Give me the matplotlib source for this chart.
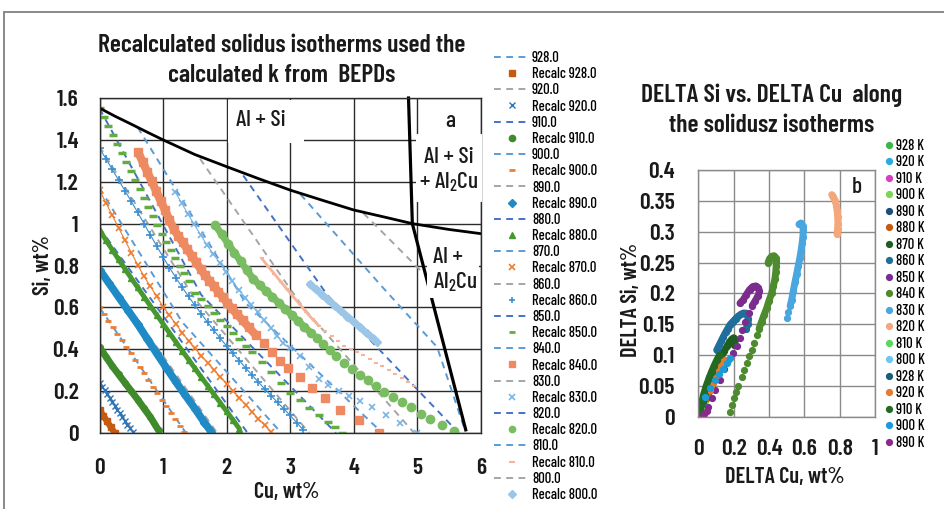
import matplotlib
matplotlib.use("Agg")
import matplotlib.pyplot as plt
import matplotlib.ticker as mticker
from matplotlib.lines import Line2D
from matplotlib.patches import Rectangle

NARROW = ["Barlow Condensed", "DejaVu Sans"]
plt.rcParams["font.family"] = NARROW
plt.rcParams["font.weight"] = 500
plt.rcParams["mathtext.fontset"] = "custom"
plt.rcParams["mathtext.rm"] = "Barlow Condensed:medium"
plt.rcParams["mathtext.it"] = "Barlow Condensed:medium"
plt.rcParams["mathtext.bf"] = "Barlow Condensed:bold"

# ---------------- (a) solidus isotherms in the Cu-Si plane ----------------
TEMPS = [928, 920, 910, 900, 890, 880, 870, 860, 850, 840, 830, 820, 810, 800]

# isotherms taken from the BEPDs (dashed)
ISO_CU = [
    [0, 0.25], [0, 0.55], [0, 0.97], [0, 1.36], [0, 1.85], [0, 2.33],
    [0, 1.3, 2.86], [0, 1.5, 3.3], [0, 1.6, 3.72], [0.6, 2.3, 4.45],
    [1.58, 3.2, 4.95], [2.26, 3.58, 5.65], [3.16, 4.47, 5.31, 5.73], [4.15, 5.07],
]
ISO_SI = [
    [0.11, 0], [0.24, 0], [0.42, 0], [0.6, 0], [0.8, 0], [0.98, 0],
    [1.17, 0.53, 0], [1.37, 0.64, 0], [1.55, 0.66, 0], [1.46, 0.62, 0],
    [1.31, 0.6, 0], [1.23, 0.66, 0], [1.14, 0.69, 0.41, 0.03], [1.05, 0.77],
]

# recalculated isotherms (markers)
RECALC_CU = [
    [0, 0.06, 0.12, 0.18, 0.24],
    [0, 0.04, 0.08, 0.12, 0.16, 0.2, 0.24, 0.28, 0.32, 0.36, 0.4, 0.44, 0.48, 0.52],
    [0, 0.1, 0.2, 0.3, 0.4, 0.5, 0.6, 0.7, 0.8, 0.93],
    [0, 0.07, 0.14, 0.21, 0.28, 0.35, 0.42, 0.49, 0.56, 0.63, 0.70, 0.77, 0.84, 0.91,
     0.98, 1.05, 1.12, 1.19, 1.26, 1.33],
    [0, 0.15, 0.3, 0.45, 0.6, 0.75, 0.9, 1.05, 1.2, 1.35, 1.5, 1.65, 1.76],
    [0, 0.1, 0.2, 0.3, 0.4, 0.5, 0.6, 0.7, 0.8, 0.9, 1.0, 1.1, 1.2, 1.3, 1.4, 1.5, 1.6,
     1.7, 1.8, 1.9, 2.0, 2.1, 2.2],
    [0, 0.1, 0.2, 0.3, 0.4, 0.5, 0.6, 0.7, 0.8, 0.9, 1.0, 1.1, 1.2, 1.3, 1.4, 1.5, 1.6,
     1.7, 1.8, 1.9, 2.0, 2.1, 2.2, 2.3, 2.4, 2.5, 2.6, 2.7],
    [0, 0.1, 0.2, 0.3, 0.4, 0.5, 0.6, 0.7, 0.8, 0.9, 1.0, 1.1, 1.2, 1.3, 1.4, 1.5, 1.6,
     1.7, 1.8, 1.9, 2.0, 2.1, 2.2, 2.3, 2.4, 2.5, 2.6, 2.7, 2.8, 2.9, 3.0, 3.1, 3.2],
    [0, 0.07, 0.14, 0.21, 0.28, 0.35, 0.42, 0.49, 0.56, 0.63, 0.70, 0.77, 0.84, 0.91,
     0.98, 1.05, 1.12, 1.19, 1.26, 1.33, 1.40, 1.5, 1.6, 1.7, 1.8, 1.9, 2.0, 2.1, 2.2,
     2.3, 2.4, 2.55, 2.7, 2.85, 3.0, 3.15, 3.3, 3.45, 3.6, 3.7, 3.81],
    [0.61, 0.68, 0.75, 0.82, 0.89, 0.96, 1.03, 1.10, 1.17, 1.24, 1.31, 1.38, 1.45, 1.52,
     1.59, 1.66, 1.73, 1.80, 1.87, 1.94, 2.01, 2.08, 2.16, 2.25, 2.35, 2.46, 2.58, 2.71,
     2.84, 2.97, 3.16, 3.34, 3.55, 3.79, 4.08, 4.39],
    [1.19, 1.29, 1.39, 1.49, 1.59, 1.69, 1.79, 1.89, 1.99, 2.09, 2.19, 2.29, 2.39, 2.49,
     2.59, 2.69, 2.79, 2.89, 2.99, 3.15, 3.3, 3.45, 3.6, 3.76, 3.93, 4.1, 4.29, 4.5,
     4.73, 5.0],
    [1.82, 1.92, 2.02, 2.12, 2.22, 2.32, 2.42, 2.52, 2.62, 2.72, 2.82, 2.92, 3.02, 3.12,
     3.22, 3.32, 3.42, 3.52, 3.62, 3.72, 3.84, 3.97, 4.1, 4.22, 4.35, 4.48, 4.62, 4.76,
     4.9, 5.05, 5.2, 5.38, 5.57],
    [2.55, 2.65, 2.75, 2.85, 2.95, 3.05, 3.15, 3.25, 3.35, 3.45, 3.55, 3.65, 3.75, 3.85,
     3.95, 4.05, 4.15, 4.25, 4.35, 4.45, 4.55, 4.65, 4.75, 4.85, 4.95],
    [3.31, 3.4, 3.5, 3.6, 3.7, 3.8, 3.9, 4.0, 4.1, 4.2, 4.3, 4.36],
]
RECALC_SI = [
    [0.11, 0.083, 0.055, 0.027, 0.0],
    [0.24, 0.221, 0.203, 0.184, 0.166, 0.148, 0.13, 0.112, 0.094, 0.076, 0.058, 0.04,
     0.022, 0.005],
    [0.41, 0.365, 0.32, 0.28, 0.24, 0.2, 0.16, 0.118, 0.076, 0.012],
    [0.600, 0.569, 0.537, 0.506, 0.474, 0.443, 0.411, 0.380, 0.348, 0.317, 0.285, 0.254,
     0.222, 0.191, 0.159, 0.128, 0.096, 0.065, 0.033, 0.005],
    [0.78, 0.715, 0.65, 0.585, 0.52, 0.45, 0.38, 0.312, 0.245, 0.18, 0.117, 0.05, 0.005],
    [0.97, 0.922, 0.875, 0.829, 0.784, 0.739, 0.695, 0.651, 0.607, 0.564, 0.521, 0.478,
     0.435, 0.393, 0.351, 0.309, 0.267, 0.226, 0.185, 0.144, 0.103, 0.062, 0.02],
    [1.16, 1.10, 1.04, 0.98, 0.921, 0.862, 0.803, 0.748, 0.70, 0.652, 0.603, 0.562,
     0.521, 0.48, 0.44, 0.404, 0.37, 0.336, 0.302, 0.268, 0.236, 0.202, 0.168, 0.134,
     0.101, 0.068, 0.036, 0.004],
    [1.36, 1.31, 1.259, 1.208, 1.157, 1.106, 1.054, 1.0, 0.946, 0.893, 0.84, 0.79,
     0.742, 0.696, 0.652, 0.61, 0.569, 0.529, 0.49, 0.452, 0.415, 0.38, 0.345, 0.31,
     0.276, 0.243, 0.21, 0.178, 0.146, 0.115, 0.084, 0.05, 0.016],
    [1.55, 1.507, 1.465, 1.422, 1.379, 1.337, 1.294, 1.251, 1.208, 1.166, 1.123, 1.08,
     1.038, 0.995, 0.952, 0.913, 0.875, 0.837, 0.8, 0.762, 0.724, 0.67, 0.638, 0.606,
     0.574, 0.542, 0.51, 0.479, 0.448, 0.417, 0.386, 0.338, 0.289, 0.24, 0.19, 0.156,
     0.121, 0.087, 0.051, 0.027, 0.0],
    [1.34, 1.294, 1.248, 1.202, 1.156, 1.11, 1.064, 1.018, 0.973, 0.94, 0.91, 0.878,
     0.846, 0.815, 0.783, 0.753, 0.727, 0.701, 0.674, 0.648, 0.621, 0.595, 0.568, 0.538,
     0.504, 0.467, 0.428, 0.387, 0.346, 0.309, 0.269, 0.217, 0.166, 0.112, 0.06, 0.0],
    [1.152, 1.099, 1.046, 0.996, 0.947, 0.898, 0.855, 0.813, 0.77, 0.727, 0.684, 0.647,
     0.613, 0.576, 0.539, 0.502, 0.465, 0.428, 0.405, 0.367, 0.313, 0.26, 0.228, 0.2,
     0.178, 0.155, 0.122, 0.086, 0.046, 0.0],
    [0.993, 0.949, 0.905, 0.862, 0.82, 0.777, 0.735, 0.706, 0.678, 0.65, 0.621, 0.593,
     0.564, 0.536, 0.508, 0.48, 0.452, 0.423, 0.395, 0.367, 0.333, 0.306, 0.279, 0.254,
     0.226, 0.198, 0.171, 0.146, 0.124, 0.091, 0.065, 0.04, 0.01],
    [0.834, 0.797, 0.76, 0.723, 0.686, 0.65, 0.614, 0.578, 0.543, 0.512, 0.487, 0.462,
     0.438, 0.416, 0.401, 0.388, 0.371, 0.354, 0.336, 0.32, 0.302, 0.283, 0.264, 0.244,
     0.225],
    [0.71, 0.687, 0.661, 0.635, 0.608, 0.582, 0.556, 0.53, 0.504, 0.478, 0.452, 0.436],
]

# phase boundaries: Al+Si eutectic valley and Al2Cu boundary
EUT_CU = [0, 0.25, 0.5, 0.75, 1.0, 1.5, 2.0, 2.5, 3.0, 3.5, 4.0, 4.5, 4.92, 5.5, 6.0]
EUT_SI = [1.552, 1.512, 1.475, 1.437, 1.40, 1.33, 1.272, 1.215, 1.16, 1.112, 1.065, 1.03,
          1.0, 0.972, 0.952]
AL2CU_CU = [4.86, 4.92, 5.76]
AL2CU_SI = [1.6, 1.0, 0.015]

# styles
ISO_COLORS = ["#5B9BD5", "#A5A5A5", "#4472C4", "#5B9BD5", "#A5A5A5", "#4472C4", "#5B9BD5",
              "#A5A5A5", "#4472C4", "#5B9BD5", "#A5A5A5", "#4472C4", "#5B9BD5", "#A5A5A5"]
RC_COLORS = ["#C55A11", "#2E75B6", "#3F8A2A", "#ED7D31", "#1F8BC6", "#47982F", "#ED7D31",
             "#3B8ED0", "#62AD3F", "#EE8A62", "#78B4E4", "#79BC61", "#F6B59A", "#9CC6E8"]
RC_MARKERS = ["s", "x", "o", "_", "D", "^", "x", "+", "_", "s", "x", "o", "_", "D"]
RC_MS = [4, 4.5, 4, 4, 4, 5, 5, 5.5, 6, 5.5, 5, 6, 3, 4]
RC_MEW = [1, 1, 1, 2, 1, 1, 1.2, 1.2, 2.5, 1, 1.2, 1, 1.5, 1]
# number of leading points that overlap into a continuous band, and its width
RC_BAND_N = [5, 14, 10, 0, 13, 23, 28, 33, 0, 26, 19, 16, 10, 12]
RC_BAND_W = [4.5, 0.8, 5, 0, 5.5, 3.5, 0.8, 0.8, 0, 6, 0.8, 5, 2, 5]

# ---------------- (b) DELTA Si vs DELTA Cu ----------------
DELTA_LABELS = ["928 K", "920 K", "910 K", "900 K", "890 K", "880 K", "870 K", "860 K",
                "850 K", "840 K", "830 K", "820 K", "810 K", "800 K",
                "928 K", "920 K", "910 K", "900 K", "890 K"]
DELTA_CU = [
    [0.0, 0.004, 0.008],
    [0.004, 0.01, 0.016, 0.022],
    [0.002, 0.008, 0.014],
    [0.006, 0.016, 0.026, 0.036, 0.046],
    [0.0, 0.012, 0.024, 0.036, 0.048, 0.06],
    [0.05, 0.066, 0.082, 0.098, 0.114, 0.13, 0.142],
    [0.0, 0.012, 0.024, 0.038, 0.052, 0.066, 0.082, 0.098, 0.114, 0.13, 0.146, 0.162,
     0.176, 0.19, 0.2, 0.206, 0.202],
    [0.104, 0.118, 0.13, 0.142, 0.155, 0.167, 0.179, 0.195, 0.211, 0.226, 0.24, 0.255,
     0.268, 0.277, 0.283, 0.279, 0.272],
    [0.028, 0.057, 0.075, 0.094, 0.123, 0.148, 0.17, 0.195, 0.217, 0.236, 0.25, 0.264,
     0.285, 0.305, 0.322, 0.338, 0.346, 0.34, 0.325, 0.308, 0.29, 0.272, 0.255, 0.236],
    [0.179, 0.189, 0.2, 0.213, 0.226, 0.245, 0.26, 0.274, 0.288, 0.302, 0.316, 0.33,
     0.344, 0.358, 0.372, 0.387, 0.4, 0.415, 0.425, 0.434, 0.438, 0.441, 0.441, 0.437,
     0.428, 0.415, 0.403, 0.395],
    [0.5, 0.51, 0.52, 0.528, 0.537, 0.547, 0.557, 0.566, 0.575, 0.582, 0.588, 0.592,
     0.594, 0.59, 0.58, 0.57],
    [0.755, 0.765, 0.775, 0.782, 0.786, 0.789, 0.79, 0.788, 0.785],
    [],
    [],
    [0.01, 0.02, 0.03, 0.04, 0.05, 0.06],
    [0.066, 0.085, 0.104, 0.123, 0.142],
    [0.0, 0.01, 0.02, 0.03, 0.045, 0.06, 0.075, 0.09, 0.105, 0.12],
    [0.038, 0.066, 0.094, 0.118, 0.142, 0.162, 0.179],
    [0.02, 0.034, 0.048],
]
DELTA_SI = [
    [0.0, 0.004, 0.008],
    [0.003, 0.008, 0.013, 0.019],
    [0.0, 0.002, 0.005],
    [0.004, 0.011, 0.018, 0.026, 0.034],
    [0.002, 0.013, 0.024, 0.035, 0.045, 0.055],
    [0.03, 0.043, 0.055, 0.066, 0.076, 0.085, 0.092],
    [0.003, 0.014, 0.026, 0.038, 0.049, 0.06, 0.07, 0.079, 0.088, 0.097, 0.106, 0.114,
     0.121, 0.126, 0.128, 0.124, 0.117],
    [0.108, 0.116, 0.123, 0.13, 0.137, 0.143, 0.149, 0.154, 0.159, 0.163, 0.166, 0.168,
     0.168, 0.165, 0.158, 0.15, 0.143],
    [0.0, 0.016, 0.03, 0.043, 0.06, 0.077, 0.092, 0.103, 0.114, 0.127, 0.141, 0.154,
     0.168, 0.18, 0.188, 0.196, 0.203, 0.209, 0.212, 0.211, 0.206, 0.198, 0.19, 0.184],
    [0.008, 0.019, 0.03, 0.04, 0.049, 0.065, 0.076, 0.087, 0.098, 0.108, 0.12, 0.132,
     0.143, 0.154, 0.165, 0.176, 0.188, 0.2, 0.212, 0.224, 0.234, 0.244, 0.252, 0.258,
     0.261, 0.26, 0.256, 0.25],
    [0.16, 0.17, 0.18, 0.189, 0.203, 0.218, 0.232, 0.245, 0.258, 0.27, 0.282, 0.292,
     0.302, 0.31, 0.314, 0.312],
    [0.36, 0.356, 0.35, 0.342, 0.333, 0.323, 0.313, 0.304, 0.296],
    [],
    [],
    [0.012, 0.024, 0.035, 0.045, 0.055, 0.065],
    [0.043, 0.056, 0.068, 0.08, 0.092],
    [0.0, 0.012, 0.024, 0.036, 0.05, 0.062, 0.073, 0.083, 0.092, 0.1],
    [0.032, 0.046, 0.06, 0.07, 0.078, 0.087, 0.095],
    [0.0, 0.004, 0.01],
]
DELTA_COLORS = ["#3DB54A", "#2BAAE2", "#D63DC1", "#7CD653", "#1F4E79", "#C55A11", "#1E5E20",
                "#1F6E9C", "#7B2D8E", "#4E8B2E", "#49A6DE", "#F4A77A", "#5CD65C", "#6DC8F0",
                "#17607D", "#E87A2C", "#236B23", "#1B9CD8", "#8B2A8B"]
# index from which the points pack into a solid band (None = dots only)
DELTA_BAND_FROM = [None, None, None, None, 0, 0, 0, 0, 13, 12, 2, 0, None, None,
                   None, 0, 0, None, None]

W, H = 944, 509
TXT = "#1a1a1a"
fig = plt.figure(figsize=(W / 100, H / 100), dpi=100)
fig.patch.set_facecolor("white")


def _fmt(v, pos):
    return f"{v:g}"


def _style_axes(ax, grid_color, lw, xpad, ypad):
    ax.grid(True, color=grid_color, linewidth=lw, zorder=0)
    ax.set_axisbelow(True)
    for sp in ax.spines.values():
        sp.set_color(grid_color)
        sp.set_linewidth(lw)
    ax.tick_params(length=0, labelsize=17, colors=TXT)
    ax.tick_params(axis="x", pad=xpad)
    ax.tick_params(axis="y", pad=ypad)
    ax.xaxis.set_major_formatter(mticker.FuncFormatter(_fmt))
    ax.yaxis.set_major_formatter(mticker.FuncFormatter(_fmt))
    for t in ax.get_xticklabels() + ax.get_yticklabels():
        t.set_fontweight(600)


# ---- panel (a) ----
ax = fig.add_axes([99.5 / W, 1 - 433 / H, 381.5 / W, 335 / H])
ax.set_xlim(0, 6)
ax.set_ylim(0, 1.6)
ax.set_xticks(range(7))
ax.set_yticks([0, 0.2, 0.4, 0.6, 0.8, 1.0, 1.2, 1.4, 1.6])
_style_axes(ax, "#2b2b2b", 1.0, 18, 15)

for i, t in enumerate(TEMPS):
    ax.plot(ISO_CU[i], ISO_SI[i], color=ISO_COLORS[i], lw=1.4,
            dashes=(3.5, 2.8), zorder=2)

for i, t in enumerate(TEMPS):
    n = RC_BAND_N[i]
    if n:
        ax.plot(RECALC_CU[i][:n], RECALC_SI[i][:n], color=RC_COLORS[i],
                lw=RC_BAND_W[i], solid_capstyle="round", zorder=2.1)
    ax.plot(RECALC_CU[i], RECALC_SI[i], ls="none", marker=RC_MARKERS[i],
            ms=RC_MS[i], mew=RC_MEW[i], color=RC_COLORS[i], zorder=2.1)

ax.plot(EUT_CU, EUT_SI, color="black", lw=2.0, zorder=2.3)
ax.plot(AL2CU_CU, AL2CU_SI, color="black", lw=2.3, zorder=2.3, clip_on=False)

# white label panels over the grid
for (x0, y0, w, h) in [(2.02, 1.385, 1.2, 0.205), (5.03, 1.43, 0.94, 0.16),
                       (4.985, 1.105, 1.035, 0.325), (5.145, 0.645, 0.825, 0.235)]:
    ax.add_patch(Rectangle((x0, y0), w, h, facecolor="white", edgecolor="none",
                           zorder=2.6, clip_on=False))

lab = dict(fontsize=17, color=TXT, zorder=2.7, fontweight=500)
ax.text(2.53, 1.495, "Al + Si", ha="center", va="center", **lab)
ax.text(5.52, 1.49, "a", ha="center", va="center", **lab)
ax.text(5.49, 1.255, "Al + Si\n+ Al$_2$Cu", ha="center", va="center",
        multialignment="center", linespacing=1.2, **lab)
ax.text(5.25, 0.775, "Al +\nAl$_2$Cu", ha="left", va="center",
        linespacing=1.2, **lab)

fig.text(282 / W, 1 - 60.5 / H, "Recalculated solidus isotherms used the\ncalculated k from  BEPDs",
         ha="center", va="center", fontsize=18.5, fontweight=600, linespacing=1.4, color=TXT)
fig.text(43 / W, 1 - 265 / H, "Si, wt%", rotation=90, ha="center", va="center",
         fontsize=16, fontweight=600, color=TXT)
fig.text(287 / W, 1 - 492 / H, "Cu, wt%", ha="center", va="center", fontsize=16,
         fontweight=600, color=TXT)

handles, labels = [], []
for i, t in enumerate(TEMPS):
    handles.append(Line2D([], [], color=ISO_COLORS[i], lw=1.4, dashes=(3.5, 2.8)))
    labels.append(f"{t:.1f}")
    handles.append(Line2D([], [], ls="none", marker=RC_MARKERS[i], color=RC_COLORS[i],
                          ms=4.5, mew=min(RC_MEW[i], 2)))
    labels.append(f"Recalc {t:.1f}")
fig.legend(handles, labels, loc="upper left", bbox_to_anchor=(494 / W, 1 - 51 / H),
           frameon=False, fontsize=10.5, handlelength=2.5, handletextpad=0.1,
           labelspacing=0.15, borderpad=0, borderaxespad=0)

# ---- panel (b) ----
bx = fig.add_axes([698.3 / W, 1 - 416.7 / H, 176.7 / W, 246.7 / H])
bx.set_xlim(0, 1)
bx.set_ylim(0, 0.4)
bx.set_xticks([0, 0.2, 0.4, 0.6, 0.8, 1.0])
bx.set_yticks([0, 0.05, 0.1, 0.15, 0.2, 0.25, 0.3, 0.35, 0.4])
_style_axes(bx, "#8a8a8a", 1.0, 16, 17)

for i, lbl in enumerate(DELTA_LABELS):
    cu, si, c = DELTA_CU[i], DELTA_SI[i], DELTA_COLORS[i]
    k = DELTA_BAND_FROM[i]
    if k is not None and cu:
        bx.plot(cu[k:], si[k:], color=c, lw=5, solid_capstyle="round", zorder=2)
    bx.plot(cu, si, ls="none", marker="o", ms=4.2, color=c, zorder=2)

bx.text(0.896, 0.373, "b", ha="center", va="center", fontsize=17, fontweight=500, color=TXT)

fig.text(772 / W, 1 - 110 / H, "DELTA Si vs. DELTA Cu  along\nthe solidusz isotherms",
         ha="center", va="center", fontsize=18.5, fontweight=600, linespacing=1.4, color=TXT)
fig.text(631 / W, 1 - 300 / H, "DELTA Si, wt%", rotation=90, ha="center", va="center",
         fontsize=16, fontweight=600, color=TXT)
fig.text(785 / W, 1 - 477 / H, "DELTA Cu, wt%", ha="center", va="center",
         fontsize=16, fontweight=600, color=TXT)

dh = [Line2D([], [], ls="none", marker="o", ms=4.2, color=c) for c in DELTA_COLORS]
fig.legend(dh, DELTA_LABELS, loc="upper left", bbox_to_anchor=(885 / W, 1 - 139 / H),
           frameon=False, fontsize=10.5, handlelength=0.6, handletextpad=0.15,
           labelspacing=0.17, borderpad=0, borderaxespad=0)

# outer frame
fig.patches.append(Rectangle((4 / W, -0.01), 1.0, 1 - 12 / H + 0.01, transform=fig.transFigure,
                             facecolor="none", edgecolor="#808080", lw=1.3))

fig.savefig("out.png", dpi=100)
